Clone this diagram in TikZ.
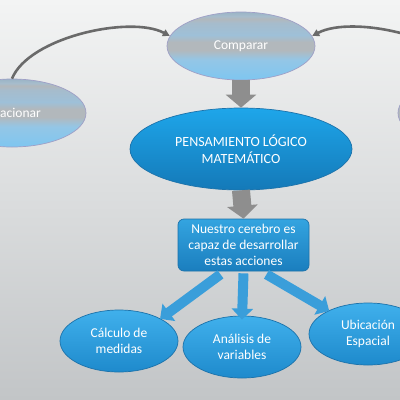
\documentclass[tikz,border=0pt]{standalone}
\usepackage{fontspec}
\setmainfont{Carlito}
\usetikzlibrary{shapes.geometric,arrows.meta,calc}
\definecolor{bgtop}{HTML}{F3F4F4}
\definecolor{bgbot}{HTML}{C2C5C7}
\definecolor{gb1}{HTML}{7EC6F0}
\definecolor{gb2}{HTML}{94C6E6}
\definecolor{gband}{HTML}{B2B8BC}
\definecolor{gb3}{HTML}{9EC0D8}
\definecolor{gb4}{HTML}{A6BCCC}
\definecolor{gtop}{HTML}{9AB4C6}
\definecolor{plmA}{HTML}{1EA6EA}
\definecolor{plmB}{HTML}{1479B8}
\definecolor{bxA}{HTML}{34A4E0}
\definecolor{bxB}{HTML}{1A7EBE}
\definecolor{elA}{HTML}{40B0EC}
\definecolor{elB}{HTML}{1E8ACC}
\definecolor{bline}{HTML}{1C72AA}
\definecolor{barrow}{HTML}{3A9EDA}
\definecolor{garrow}{HTML}{8E8E8E}
\definecolor{gcurve}{HTML}{6A6A6A}
\pgfdeclareverticalshading{grayblue}{100bp}{color(0bp)=(gb1); color(25bp)=(gb1); color(40bp)=(gb2); color(47bp)=(gband); color(53bp)=(gband); color(58bp)=(gb3); color(67bp)=(gb4); color(70bp)=(gband); color(72bp)=(gb4); color(75bp)=(gtop); color(100bp)=(gtop)}
\tikzset{
  txt/.style={text=white, font=\fontsize{13.5}{16}\selectfont, align=center},
  grayell/.style={ellipse, shading=grayblue, draw=gray!75!blue!60, line width=0.7pt, inner sep=0pt, minimum width=148pt, minimum height=68pt, txt},
  blueell/.style={ellipse, top color=elA, bottom color=elB, draw=bline, line width=0.7pt, inner sep=0pt, minimum width=118pt, minimum height=62pt, txt},
  grayarrow/.style={garrow, line width=18pt, -{Triangle[width=30pt,length=13pt]}},
  bluearrow/.style={barrow, line width=10pt, -{Triangle[width=21pt,length=11pt]}},
  curvearrow/.style={gcurve, line width=2.6pt, -{Triangle[width=7pt,length=7pt]}},
}
\begin{document}
\begin{tikzpicture}[x=1pt,y=-1pt]
\useasboundingbox (0,0) rectangle (400,400);
\clip (0,0) rectangle (400,400);
\fill[top color=bgtop, bottom color=bgbot] (0,0) rectangle (400,400);

\node[grayell] (comp) at (241,46) {Comparar};
\node[grayell] (rel) at (12,113) {Relacionar};
\node[grayell] (rgt) at (472,113) {};

\node[ellipse, top color=plmA, bottom color=plmB, draw=bline, line width=0.7pt, inner sep=0pt,
      minimum width=222pt, minimum height=82pt, txt, font=\fontsize{14}{16.5}\selectfont] (plm) at (241,149)
      {PENSAMIENTO LÓGICO\\MATEMÁTICO};

\node[rounded corners=6pt, top color=bxA, bottom color=bxB, draw=bline, line width=0.7pt,
      minimum width=131pt, minimum height=52pt, inner sep=0pt, txt] (box) at (243.5,245)
      {Nuestro cerebro es\\capaz de desarrollar\\estas acciones};

\node[blueell] (calc) at (119,341) {Cálculo de\\medidas};
\node[blueell] (anal) at (242,347) {Análisis de\\variables};
\node[blueell] (ubic) at (368,334) {Ubicación\\Espacial};

\draw[curvearrow] (rel.north) to[out=68,in=152,looseness=0.7] (comp.172);
\draw[curvearrow] (rgt.north) to[out=112,in=28,looseness=0.7] (comp.8);

\draw[grayarrow] (comp.south) -- (plm.north);
\draw[grayarrow] (plm.south) -- (box.north);

\draw[bluearrow] ([xshift=-23pt,yshift=-3pt]box.south) -- ([xshift=1pt,yshift=-1pt]calc.30);
\draw[bluearrow] ([yshift=-2pt]box.south) -- ([yshift=-4pt]anal.north);
\draw[bluearrow] ([xshift=23pt,yshift=-3pt]box.south) -- ([xshift=-3pt,yshift=-2pt]ubic.145);
\end{tikzpicture}
\end{document}
